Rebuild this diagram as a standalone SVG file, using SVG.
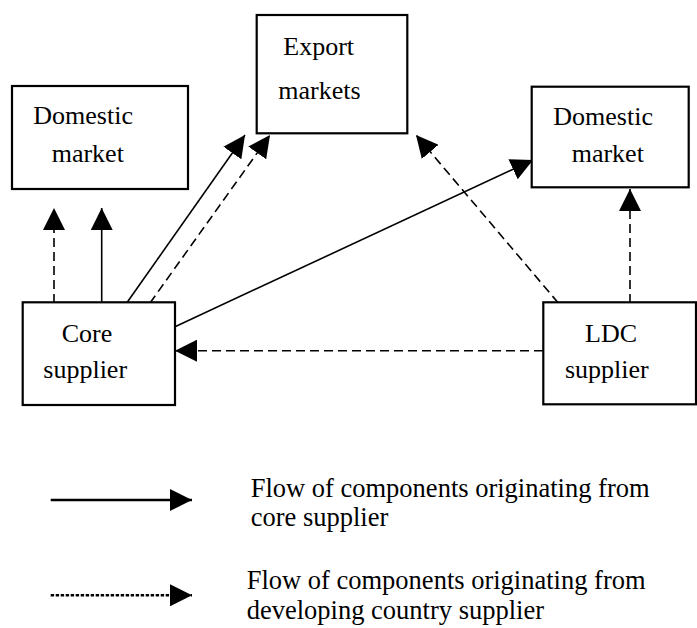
<svg xmlns="http://www.w3.org/2000/svg" width="697" height="628" viewBox="0 0 697 628">
<defs>
<marker id="ah" markerUnits="userSpaceOnUse" markerWidth="22" markerHeight="22" refX="20" refY="10" orient="auto" viewBox="0 0 20 20">
<path d="M0,0 L20,10 L0,20 z" fill="#000"/>
</marker>
<style>
.box{fill:#fff;stroke:#000;stroke-width:2.2}
.c{fill:none;stroke:#000;stroke-width:1.6;marker-end:url(#ah)}
.d{stroke-dasharray:9 5}
text{font-family:"Times New Roman","Liberation Serif",serif;fill:#000}
</style>
</defs>
<rect width="697" height="628" fill="#fff"/>
<g id="connectors">
<line class="c d" x1="54" y1="303" x2="54" y2="208"/>
<line class="c" x1="101.7" y1="303" x2="101.7" y2="208"/>
<line class="c" x1="126.7" y1="303" x2="245" y2="135"/>
<line class="c d" x1="150" y1="303" x2="270" y2="135"/>
<line class="c" x1="175" y1="326.7" x2="533" y2="160"/>
<line class="c d" x1="558.3" y1="303" x2="416" y2="135"/>
<line class="c d" x1="630" y1="303" x2="630" y2="189"/>
<line class="c d" x1="543" y1="350.7" x2="175" y2="350.7"/>
</g>
<g font-size="26">
<g id="domestic-left">
<rect class="box" x="12" y="86" width="176" height="103"/>
<text x="33.3" y="124">Domestic</text>
<text x="51.7" y="161.7">market</text>
</g>
<g id="export">
<rect class="box" x="256.7" y="15" width="150.6" height="118.3"/>
<text x="283.3" y="55">Export</text>
<text x="278.3" y="99">markets</text>
</g>
<g id="domestic-right">
<rect class="box" x="531.7" y="86.7" width="157" height="100.6"/>
<text x="553.3" y="125">Domestic</text>
<text x="571.7" y="161.7">market</text>
</g>
<g id="core">
<rect class="box" x="22.7" y="302.3" width="152.3" height="102.7"/>
<text x="61.7" y="341.7">Core</text>
<text x="43.3" y="378.3">supplier</text>
</g>
<g id="ldc">
<rect class="box" x="543.3" y="302.3" width="152.7" height="102"/>
<text x="585" y="341.7">LDC</text>
<text x="565" y="378.3">supplier</text>
</g>
<g id="legend" font-size="26.5">
<line x1="50.7" y1="500" x2="192" y2="500" stroke="#000" stroke-width="2.4" marker-end="url(#ah)"/>
<line x1="50.7" y1="595.3" x2="192" y2="595.3" stroke="#000" stroke-width="2.6" stroke-dasharray="3.4 1.6" marker-end="url(#ah)"/>
<text x="250.7" y="496.5">Flow of components originating from</text>
<text x="250.7" y="526">core supplier</text>
<text x="246.7" y="589">Flow of components originating from</text>
<text x="246.7" y="618.5">developing country supplier</text>
</g>
</g>
</svg>
